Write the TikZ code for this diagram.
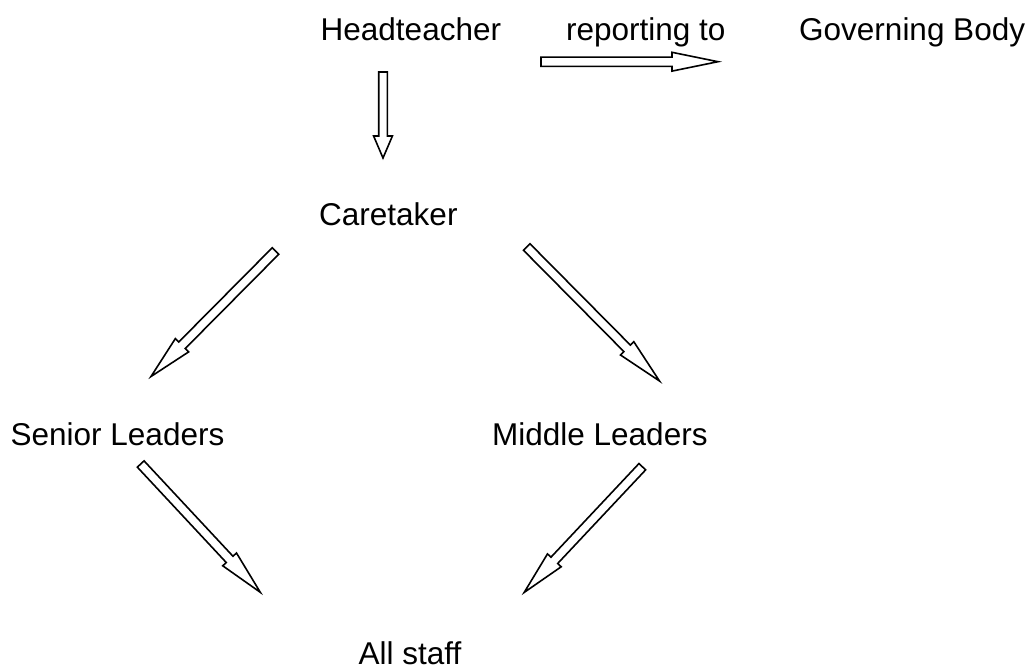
\documentclass[tikz,border=0pt]{standalone}
\usepackage{fontspec}
\setmainfont{Liberation Sans}
\usetikzlibrary{calc}
\tikzset{
  lbl/.style={anchor=base west, inner sep=0pt, font=\fontsize{31.5pt}{36pt}\selectfont},
  blockarr/.style={draw=black, line width=1.6pt, line join=miter, fill=white}
}
\newcommand\blockarrow[5]{%
  \coordinate (ba-h) at ($(#2)!#3!(#1)$);
  \draw[blockarr] ($(#1)!#4!-90:(#2)$) -- ($(ba-h)!#4!-90:(#2)$) -- ($(ba-h)!#5!-90:(#2)$) -- (#2) -- ($(ba-h)!#5!90:(#2)$) -- ($(ba-h)!#4!90:(#2)$) -- ($(#1)!#4!90:(#2)$) -- cycle;}
\begin{document}
\begin{tikzpicture}[x=1pt,y=-1pt]
\useasboundingbox[fill=white] (0,0) rectangle (1032,667);
% labels
\node[lbl] (head) at (320.5,40) {Headteacher};
\node[lbl] (rep) at (566,40) {reporting to};
\node[lbl] (gov) at (799,40) {Governing Body};
\node[lbl] (care) at (319,225) {Caretaker};
\node[lbl] (senior) at (10.5,445) {Senior Leaders};
\node[lbl] (middle) at (492,445) {Middle Leaders};
\node[lbl] (all) at (358.5,664) {All staff};
% arrow end points
\coordinate (r1) at (541,61.7);
\coordinate (r2) at (718,61.7);
\coordinate (d1) at (383,72);
\coordinate (d2) at (383,158);
\coordinate (cs1) at (275.5,251);
\coordinate (cs2) at (151,376.5);
\coordinate (cm1) at (526.7,247);
\coordinate (cm2) at (659.5,381);
\coordinate (sa1) at (140.7,464);
\coordinate (sa2) at (260.3,592.3);
\coordinate (ma1) at (642.3,466.7);
\coordinate (ma2) at (524.2,592.4);
% block arrows
\blockarrow{r1}{r2}{46pt}{4.6pt}{9.4pt}
\blockarrow{d1}{d2}{22pt}{4.3pt}{9.4pt}
\blockarrow{cs1}{cs2}{44pt}{4.6pt}{9.4pt}
\blockarrow{cm1}{cm2}{46pt}{4.6pt}{9.4pt}
\blockarrow{sa1}{sa2}{45pt}{4.6pt}{9.4pt}
\blockarrow{ma1}{ma2}{44pt}{4.6pt}{9.4pt}
\end{tikzpicture}
\end{document}
